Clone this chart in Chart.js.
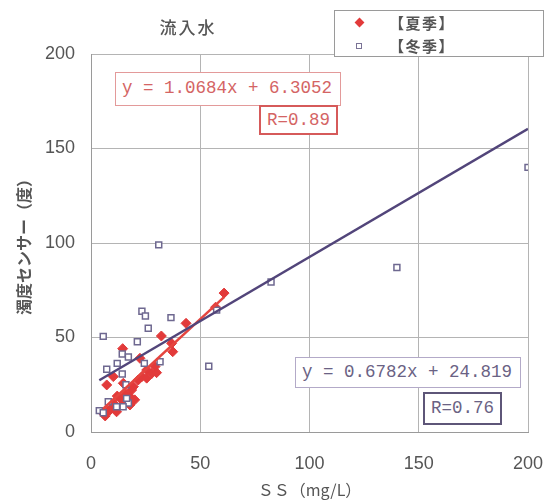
<!DOCTYPE html>
<html><head><meta charset="utf-8">
<script src="https://cdn.jsdelivr.net/npm/chart.js@4/dist/chart.umd.min.js"></script>
<style>
html,body{margin:0;padding:0;background:#fff;}
#wrap{position:relative;width:546px;height:500px;}
canvas{position:absolute;left:0;top:0;}
.ov{position:absolute;box-sizing:border-box;background:#fff;white-space:nowrap;}
#title{left:130px;top:14px;width:116px;text-align:center;font:500 17px "Noto Sans CJK JP";color:#555;background:transparent;letter-spacing:2px;}
#legend{left:334px;top:10px;width:210px;height:47px;border:1px solid #9a9a9a;font:bold 15px "Noto Sans CJK JP";color:#555;}
.lg{position:absolute;left:0;width:100%;height:22px;}
.lg span{position:absolute;left:54px;top:0;line-height:22px;letter-spacing:1.5px;}
.mk{position:absolute;}
.eq{font:17.5px "Liberation Mono";}
#eqS{left:115px;top:72px;width:226px;height:34px;border:1.5px solid #e39a9a;color:#d46464;line-height:31px;padding-left:6px;}
#rS{left:259px;top:105px;width:79px;height:30px;border:2px solid #d65a5a;color:#d46464;line-height:27px;padding-left:6px;}
#eqW{left:295px;top:357px;width:226px;height:31px;border:1.5px solid #b3aac8;color:#6a6284;line-height:28px;padding-left:6px;}
#rW{left:423px;top:392px;width:79px;height:33px;border:2px solid #5e5678;color:#6a6284;line-height:29px;padding-left:6px;}
</style></head>
<body><div id="wrap">
<canvas id="c" width="546" height="500"></canvas>
<div class="ov" id="title">流入水</div>
<div class="ov" id="legend">
 <div class="lg" style="top:1px"><div class="mk" style="left:21px;top:7px;width:7px;height:7px;background:#e23a3a;transform:rotate(45deg);"></div><span>【夏季】</span></div>
 <div class="lg" style="top:24px"><div class="mk" style="left:21px;top:8px;width:6px;height:6px;border:1.5px solid #7a7396;box-sizing:border-box;"></div><span>【冬季】</span></div>
</div>
<div class="ov eq" id="eqS">y = 1.0684x + 6.3052</div>
<div class="ov eq" id="rS">R=0.89</div>
<div class="ov eq" id="eqW">y = 0.6782x + 24.819</div>
<div class="ov eq" id="rW">R=0.76</div>
</div>
<script>
// ---- data ----
const seriesNames = ['【夏季】', '【冬季】'];
const summerX = [5.5, 6.5, 7.5, 8.7, 10, 11.7, 13.3, 10.2, 15, 17.8, 17.8, 18.6, 16, 19.4, 14.8, 7.2, 10.2, 14.5, 21.6, 23.3, 25.5, 25.5, 27.8, 30, 29.3, 22.4, 32.2, 36.9, 37.4, 43.5, 57, 60.9, 12, 20];
const summerY = [10, 8.5, 11, 11.6, 13, 10.7, 17.8, 15.2, 16, 14.3, 18.7, 22.2, 20, 24, 25.8, 24.9, 29.3, 44.1, 27.5, 29.3, 28.5, 32.8, 31, 31.4, 34.6, 39, 50.8, 46.9, 42.5, 57.5, 66, 73.5, 19, 17];
const winterX = [31, 23.3, 24.9, 36.6, 26.2, 5.6, 21.2, 14.3, 17.1, 12, 7.2, 24.4, 31.6, 14.3, 53.9, 16, 7.9, 17.1, 11.7, 14.7, 3.8, 16.3, 5.6, 57.5, 82.4, 140, 200];
const winterY = [99, 63.9, 61.4, 60.5, 54.9, 50.6, 47.8, 41.3, 39.7, 36.3, 33.2, 36.3, 37.2, 30.7, 34.8, 25, 16, 15.3, 13.4, 13.4, 11.3, 17.8, 10.2, 64.5, 79.4, 87, 140];
const summerFit = {slope: 1.0684, intercept: 6.3052};
const winterFit = {slope: 0.6782, intercept: 24.819};
const tickValues = [0, 50, 100, 150, 200];

const pts = (xs, ys) => xs.map((x, i) => ({x, y: ys[i]}));
const fitLine = (xs, f) => {
  const a = Math.min(...xs), b = Math.max(...xs);
  return [{x: a, y: f.slope * a + f.intercept}, {x: b, y: f.slope * b + f.intercept}];
};

// pin the plot area to the reference's position
const pinArea = {
  id: 'pinArea',
  afterLayout(chart) {
    const ca = chart.chartArea;
    const L = 91, R = 528, T = 54, B = 432;
    ca.left = L; ca.right = R; ca.top = T; ca.bottom = B;
    ca.width = R - L; ca.height = B - T;
    const x = chart.scales.x, y = chart.scales.y;
    x.left = L; x.right = R; x.width = R - L;
    y.top = T; y.bottom = B; y.height = B - T;
    x.top = B; y.right = L; y.left = 0; y.width = L;
    x.configure(); y.configure();
    x._labelItems = null; y._labelItems = null;
    x._gridLineItems = null; y._gridLineItems = null;
  }
};

new Chart(document.getElementById('c'), {
  type: 'scatter',
  data: {
    datasets: [
      {label: 'fitS', type: 'line', data: fitLine(summerX, summerFit), borderColor: '#e5453f', borderWidth: 2.5, pointRadius: 0, order: 1},
      {label: 'fitW', type: 'line', data: fitLine(winterX, winterFit), borderColor: '#52457a', borderWidth: 2.5, pointRadius: 0, order: 0},
      {label: seriesNames[0], data: pts(summerX, summerY), pointStyle: 'rectRot', pointRadius: 5, backgroundColor: '#e23a3a', borderColor: '#e23a3a', borderWidth: 1, order: 3},
      {label: seriesNames[1], data: pts(winterX, winterY), pointStyle: 'rect', pointRadius: 4.2, backgroundColor: '#ffffff', borderColor: '#6e6890', borderWidth: 1.5, order: 2}
    ]
  },
  options: {
    responsive: false,
    animation: false,
    layout: {padding: {left: 0, top: 54, right: 18, bottom: 0}},
    plugins: {legend: {display: false}, tooltip: {enabled: false}, title: {display: false}},
    scales: {
      x: {
        type: 'linear', min: 0, max: 200,
        afterBuildTicks: s => { s.ticks = tickValues.map(v => ({value: v})); },
        afterFit: s => { s.height = 68; },
        grid: {color: '#b4b4b4', drawTicks: false, lineWidth: 1},
        border: {color: '#9a9a9a', width: 1},
        ticks: {padding: 21, color: '#555', font: {family: 'Liberation Sans', size: 18}},
        title: {display: true, text: 'ＳＳ（mg/L）', color: '#555', padding: {top: 0, bottom: 0}, font: {family: 'Noto Sans CJK JP', size: 16}}
      },
      y: {
        type: 'linear', min: 0, max: 200,
        afterBuildTicks: s => { s.ticks = tickValues.map(v => ({value: v})); },
        afterFit: s => { s.width = 91; },
        grid: {color: '#b4b4b4', drawTicks: false, lineWidth: 1},
        border: {color: '#9a9a9a', width: 1},
        ticks: {padding: 16, color: '#555', font: {family: 'Liberation Sans', size: 18}},
        title: {display: true, text: '濁度センサー（度）', color: '#555', padding: {top: 14, bottom: 0}, font: {family: 'Noto Sans CJK JP', size: 16, weight: 'bold'}}
      }
    }
  },
  plugins: [pinArea]
});
</script>
</body></html>
